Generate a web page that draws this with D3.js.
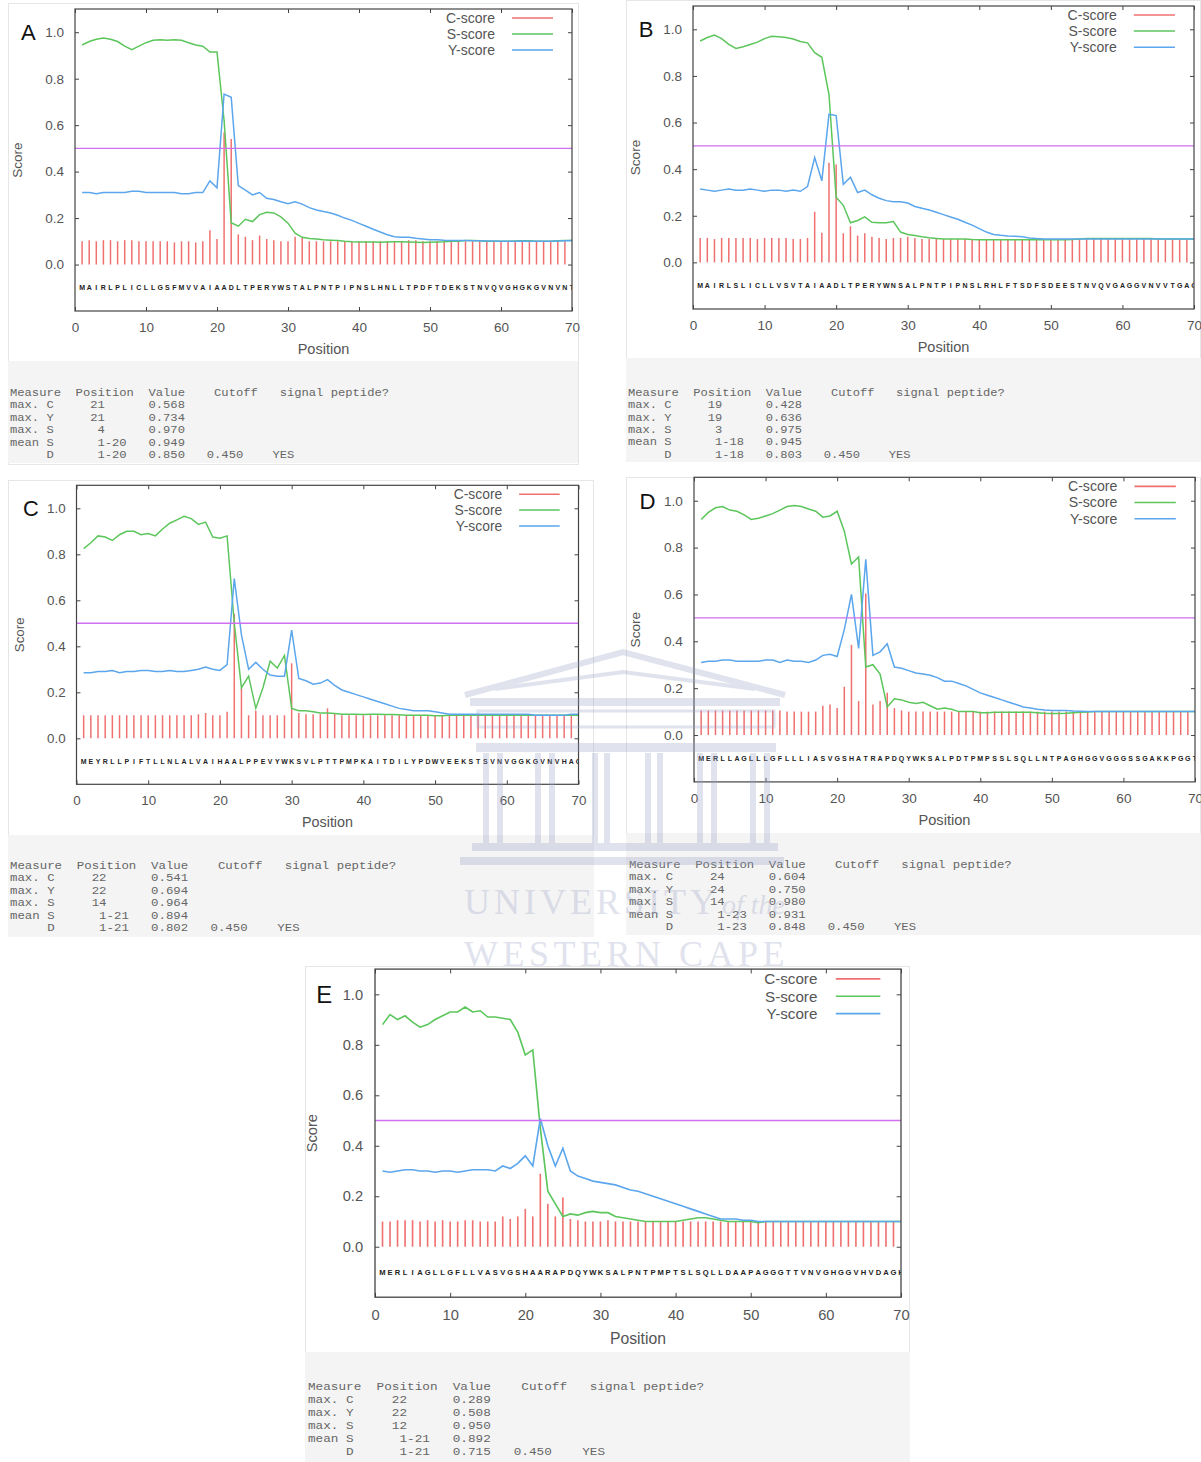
<!DOCTYPE html>
<html>
<head>
<meta charset="utf-8">
<script src="https://cdn.jsdelivr.net/npm/d3@7"></script>
<style>
body { margin: 0; background: #fff; }
svg text { font-family: "Liberation Sans", Arial, sans-serif; }
.tbl text { font-family: "Liberation Mono", monospace; white-space: pre; }
</style>
</head>
<body>
<div class="container"></div>
<script>
const WIDTH = 1201;
const HEIGHT = 1462;

const RED = '#f07070';
const GREEN = '#5cc65c';
const BLUE = '#5ba6ec';
const MAGENTA = '#d070f0';
const GREY = '#555';

const xTicks = [0, 10, 20, 30, 40, 50, 60, 70];
const yTicks = [0, 0.2, 0.4, 0.6, 0.8, 1.0];
const legendNames = ['C-score', 'S-score', 'Y-score'];
const measures = ['max. C', 'max. Y', 'max. S', 'mean S', 'D'];
const cutoff = '0.450';
const answer = 'YES';

// ---- panel A ----
const seqA = 'MAIRLPLICLLGSFMVVAIAADLTPERYWSTALPNTPIPNSLHNLLTPDFTDEKSTNVQVGHGKGVNVNTH';
const cA = [0.10,0.105,0.10,0.105,0.105,0.10,0.105,0.105,0.10,0.10,
    0.10,0.10,0.10,0.095,0.10,0.10,0.095,0.10,0.148,0.11,
    0.568,0.54,0.13,0.12,0.105,0.125,0.11,0.105,0.10,0.10,
    0.12,0.115,0.10,0.10,0.10,0.10,0.10,0.10,0.10,0.10,
    0.10,0.10,0.10,0.10,0.10,0.10,0.105,0.105,0.10,0.10,
    0.10,0.10,0.10,0.10,0.10,0.10,0.10,0.10,0.10,0.10,
    0.10,0.10,0.10,0.10,0.10,0.10,0.10,0.10,0.10];
const sA = [0.945,0.96,0.97,0.975,0.97,0.96,0.94,0.925,0.94,0.955,
    0.965,0.968,0.965,0.968,0.965,0.955,0.945,0.94,0.915,0.915,
    0.62,0.18,0.165,0.195,0.185,0.215,0.225,0.222,0.205,0.178,
    0.135,0.117,0.112,0.11,0.107,0.105,0.103,0.10,0.098,0.097,
    0.097,0.097,0.096,0.097,0.098,0.098,0.097,0.096,0.095,0.096,
    0.097,0.098,0.10,0.10,0.103,0.103,0.102,0.10,0.10,0.10,
    0.10,0.101,0.102,0.102,0.10,0.10,0.10,0.102,0.103,0.104];
const yA = [0.31,0.31,0.305,0.31,0.31,0.31,0.31,0.315,0.315,0.31,
    0.31,0.31,0.31,0.31,0.305,0.305,0.31,0.31,0.36,0.33,
    0.734,0.72,0.34,0.32,0.30,0.31,0.285,0.28,0.27,0.262,
    0.27,0.26,0.245,0.235,0.228,0.222,0.212,0.20,0.19,0.177,
    0.165,0.152,0.14,0.128,0.12,0.118,0.117,0.113,0.11,0.107,
    0.107,0.105,0.104,0.103,0.103,0.102,0.102,0.101,0.101,0.10,
    0.10,0.10,0.101,0.10,0.10,0.10,0.10,0.101,0.102,0.103];
const posA = ['21', '21', '4', '1-20', '1-20'];
const valA = ['0.568', '0.734', '0.970', '0.949', '0.850'];

// ---- panel B ----
const seqB = 'MAIRLSLICLLVSVTAIAADLTPERYWNSALPNTPIPNSLRHLFTSDFSDEESTNVQVGAGGVNVVTGAG';
const cB = [0.105,0.105,0.10,0.105,0.105,0.105,0.105,0.105,0.10,0.105,
    0.105,0.105,0.105,0.10,0.10,0.105,0.217,0.127,0.428,0.42,
    0.125,0.155,0.115,0.125,0.11,0.105,0.10,0.105,0.105,0.11,
    0.105,0.10,0.10,0.10,0.10,0.10,0.10,0.10,0.10,0.10,
    0.10,0.10,0.10,0.10,0.10,0.10,0.10,0.10,0.10,0.10,
    0.10,0.10,0.10,0.10,0.10,0.10,0.10,0.10,0.10,0.10,
    0.10,0.10,0.10,0.10,0.10,0.10,0.10,0.10,0.10];
const sB = [0.95,0.965,0.975,0.96,0.935,0.918,0.925,0.935,0.945,0.96,
    0.97,0.968,0.965,0.958,0.948,0.942,0.90,0.88,0.72,0.28,
    0.245,0.17,0.18,0.195,0.172,0.17,0.17,0.175,0.13,0.12,
    0.115,0.11,0.106,0.103,0.10,0.10,0.10,0.10,0.098,0.097,
    0.097,0.097,0.097,0.097,0.097,0.097,0.097,0.097,0.097,0.097,
    0.097,0.097,0.098,0.10,0.102,0.102,0.102,0.102,0.102,0.102,
    0.102,0.102,0.102,0.102,0.10,0.10,0.10,0.10,0.10,0.10];
const yB = [0.315,0.31,0.305,0.31,0.315,0.31,0.31,0.315,0.31,0.305,
    0.31,0.31,0.305,0.31,0.305,0.325,0.45,0.35,0.636,0.63,
    0.335,0.365,0.30,0.31,0.29,0.275,0.265,0.26,0.26,0.255,
    0.24,0.232,0.225,0.215,0.205,0.195,0.185,0.172,0.16,0.145,
    0.13,0.12,0.116,0.113,0.112,0.11,0.105,0.102,0.10,0.10,
    0.10,0.10,0.10,0.10,0.10,0.10,0.10,0.10,0.10,0.10,
    0.10,0.10,0.10,0.10,0.10,0.10,0.10,0.10,0.10,0.10];
const posB = ['19', '19', '3', '1-18', '1-18'];
const valB = ['0.428', '0.636', '0.975', '0.945', '0.803'];

// ---- panel C ----
const seqC = 'MEYRLLPIFTLLNLALVAIHAALPPEVYWKSVLPTTPMPKAITDILYPDWVEEKSTSVNVGGKGVNVHAG';
const cC = [0.10,0.10,0.10,0.10,0.10,0.10,0.10,0.10,0.10,0.10,
    0.10,0.10,0.10,0.10,0.10,0.10,0.105,0.11,0.10,0.10,
    0.115,0.541,0.22,0.10,0.12,0.10,0.10,0.10,0.10,0.326,
    0.11,0.105,0.105,0.105,0.13,0.11,0.10,0.10,0.10,0.10,
    0.10,0.10,0.10,0.10,0.10,0.10,0.10,0.10,0.10,0.10,
    0.10,0.10,0.10,0.10,0.10,0.10,0.10,0.10,0.10,0.10,
    0.10,0.10,0.10,0.10,0.10,0.10,0.10,0.10,0.10];
const sC = [0.825,0.85,0.88,0.875,0.86,0.885,0.90,0.90,0.885,0.89,
    0.88,0.91,0.935,0.95,0.965,0.955,0.93,0.94,0.875,0.87,
    0.88,0.50,0.22,0.27,0.13,0.22,0.335,0.305,0.36,0.13,
    0.12,0.12,0.115,0.11,0.11,0.108,0.105,0.105,0.105,0.103,
    0.105,0.105,0.103,0.103,0.102,0.10,0.10,0.10,0.10,0.098,
    0.098,0.10,0.10,0.10,0.10,0.10,0.10,0.10,0.10,0.10,
    0.10,0.10,0.10,0.10,0.10,0.10,0.10,0.10,0.10,0.10];
const yC = [0.285,0.285,0.29,0.29,0.295,0.285,0.29,0.29,0.295,0.295,
    0.29,0.29,0.295,0.29,0.29,0.295,0.30,0.31,0.30,0.295,
    0.32,0.694,0.45,0.30,0.33,0.30,0.275,0.27,0.27,0.47,
    0.26,0.25,0.235,0.24,0.255,0.23,0.21,0.20,0.19,0.18,
    0.17,0.16,0.15,0.14,0.13,0.125,0.12,0.12,0.12,0.115,
    0.11,0.105,0.105,0.105,0.105,0.105,0.105,0.105,0.105,0.105,
    0.105,0.105,0.105,0.10,0.10,0.10,0.10,0.10,0.105,0.105];
const posC = ['22', '22', '14', '1-21', '1-21'];
const valC = ['0.541', '0.694', '0.964', '0.894', '0.802'];

// ---- panel D ----
const seqD = 'MERLLAGLLLGFLLLIASVGSHATRAPDQYWKSALPDTPMPSSLSQLLNTPAGHGGVGGGSSGAKKPGGT';
const cD = [0.105,0.105,0.105,0.105,0.105,0.105,0.105,0.105,0.105,0.105,
    0.105,0.105,0.10,0.10,0.10,0.10,0.10,0.125,0.13,0.115,
    0.206,0.385,0.145,0.604,0.13,0.145,0.18,0.115,0.105,0.10,
    0.10,0.10,0.10,0.10,0.10,0.10,0.10,0.10,0.10,0.10,
    0.10,0.10,0.10,0.10,0.10,0.10,0.10,0.10,0.10,0.10,
    0.10,0.10,0.10,0.10,0.10,0.10,0.10,0.10,0.10,0.10,
    0.10,0.10,0.10,0.10,0.10,0.10,0.10,0.10,0.10];
const sD = [0.92,0.95,0.97,0.975,0.96,0.955,0.94,0.92,0.925,0.935,
    0.945,0.96,0.975,0.98,0.975,0.965,0.955,0.93,0.935,0.955,
    0.87,0.73,0.76,0.29,0.30,0.26,0.12,0.155,0.15,0.14,
    0.135,0.14,0.125,0.11,0.115,0.11,0.10,0.10,0.10,0.095,
    0.095,0.097,0.097,0.097,0.097,0.097,0.097,0.095,0.093,0.092,
    0.092,0.093,0.095,0.097,0.098,0.10,0.10,0.10,0.10,0.10,
    0.10,0.10,0.10,0.10,0.10,0.10,0.10,0.10,0.10,0.10];
const yD = [0.31,0.315,0.315,0.32,0.32,0.315,0.315,0.315,0.315,0.32,
    0.32,0.31,0.32,0.315,0.315,0.31,0.32,0.34,0.345,0.335,
    0.45,0.60,0.37,0.75,0.34,0.355,0.39,0.29,0.285,0.275,
    0.265,0.26,0.255,0.245,0.23,0.23,0.22,0.21,0.195,0.18,
    0.17,0.16,0.15,0.14,0.13,0.12,0.115,0.11,0.107,0.105,
    0.105,0.105,0.103,0.102,0.10,0.10,0.10,0.10,0.10,0.10,
    0.10,0.10,0.10,0.10,0.10,0.10,0.10,0.10,0.10,0.10];
const posD = ['24', '24', '14', '1-23', '1-23'];
const valD = ['0.604', '0.750', '0.980', '0.931', '0.848'];

// ---- panel E ----
const seqE = 'MERLIAGLLGFLLVASVGSHAARAPDQYWKSALPNTPMPTSLSQLLDAAPAGGGTTVNVGHGGVHVDAGH';
const cE = [0.10,0.10,0.105,0.105,0.105,0.10,0.105,0.10,0.105,0.10,
    0.10,0.105,0.105,0.10,0.10,0.10,0.12,0.11,0.12,0.15,
    0.12,0.289,0.17,0.12,0.195,0.11,0.105,0.10,0.10,0.10,
    0.105,0.10,0.10,0.10,0.10,0.10,0.10,0.10,0.10,0.10,
    0.10,0.10,0.10,0.10,0.10,0.10,0.10,0.10,0.10,0.10,
    0.10,0.10,0.10,0.10,0.10,0.10,0.10,0.10,0.10,0.10,
    0.10,0.10,0.10,0.10,0.10,0.10,0.10,0.10,0.10];
const sE = [0.88,0.92,0.90,0.915,0.89,0.87,0.88,0.90,0.915,0.93,
    0.93,0.95,0.93,0.935,0.91,0.91,0.905,0.90,0.85,0.76,
    0.78,0.47,0.22,0.17,0.12,0.13,0.125,0.135,0.14,0.135,
    0.135,0.12,0.115,0.11,0.105,0.10,0.10,0.10,0.10,0.10,
    0.105,0.11,0.115,0.115,0.11,0.105,0.10,0.10,0.10,0.10,
    0.095,0.10,0.10,0.10,0.10,0.10,0.10,0.10,0.10,0.10,
    0.10,0.10,0.10,0.10,0.10,0.10,0.10,0.10,0.10,0.10];
const yE = [0.30,0.295,0.30,0.305,0.305,0.30,0.30,0.295,0.30,0.30,
    0.295,0.30,0.305,0.305,0.305,0.30,0.32,0.31,0.33,0.36,
    0.32,0.508,0.40,0.32,0.39,0.30,0.28,0.27,0.26,0.255,
    0.25,0.245,0.235,0.225,0.22,0.21,0.20,0.19,0.18,0.17,
    0.16,0.15,0.14,0.13,0.12,0.11,0.11,0.11,0.105,0.105,
    0.10,0.10,0.10,0.10,0.10,0.10,0.10,0.10,0.10,0.10,
    0.10,0.10,0.10,0.10,0.10,0.10,0.10,0.10,0.10,0.10];
const posE = ['22', '22', '12', '1-21', '1-21'];
const valE = ['0.289', '0.508', '0.950', '0.892', '0.715'];

// layout of each screenshot tile (pixels)
var panels = [
    {name: 'A', c: cA, s: sA, y: yA, seq: seqA, pos: posA, val: valA,
        left: 75, right: 572, top: 9, bottom: 311,
        box: [8, 3, 571, 462], tbox: [8, 361, 570, 102], tx: 10, ty: 391.7, rowH: 12.55, charW: 7.3},
    {name: 'B', c: cB, s: sB, y: yB, seq: seqB, pos: posB, val: valB,
        left: 693, right: 1194, top: 6, bottom: 309,
        box: [626, 0, 575, 462], tbox: [626, 358, 575, 104], tx: 628, ty: 392, rowH: 12.4, charW: 7.25},
    {name: 'C', c: cC, s: sC, y: yC, seq: seqC, pos: posC, val: valC,
        left: 76.5, right: 578.5, top: 485.3, bottom: 784.3,
        box: [8, 480, 586, 457], tbox: [8, 835, 586, 102], tx: 10, ty: 865, rowH: 12.5, charW: 7.43},
    {name: 'D', c: cD, s: sD, y: yD, seq: seqD, pos: posD, val: valD,
        left: 694, right: 1195, top: 477.3, bottom: 781.9,
        box: [626, 477, 575, 458], tbox: [626, 833, 575, 102], tx: 629, ty: 864, rowH: 12.5, charW: 7.37},
    {name: 'E', c: cE, s: sE, y: yE, seq: seqE, pos: posE, val: valE,
        left: 375, right: 901, top: 969.1, bottom: 1297.2,
        box: [305, 966, 605, 496], tbox: [305, 1352, 605, 110], tx: 308, ty: 1386, rowH: 13, charW: 7.62}
];

var translate = function (x, y) {
    return 'translate(' + x + ',' + y + ')';
};

// one monospace line of the SignalP summary table
var tableLine = function (m, p, v) {
    var posStr = p.indexOf('-') >= 0 ? ' ' + p : p.padStart(2);
    var s = m.padStart(6).padEnd(11) + posStr;
    s = s.padEnd(19) + v;
    if (m === 'D') {
        s = s.padEnd(27) + cutoff;
        s = s.padEnd(36) + answer;
    }
    return s;
};

var drawPanel = function (svg, p) {
    var k = (p.bottom - p.top) / 302;
    var xScale = d3.scaleLinear().domain([0, 70]).range([p.left, p.right]);
    var yScale = d3.scaleLinear().domain([-0.2, 1.1]).range([p.bottom, p.top]);

    // tile border + table background
    svg.append('rect')
        .attr('x', p.box[0] + 0.5).attr('y', p.box[1] + 0.5)
        .attr('width', p.box[2] - 1).attr('height', p.box[3] - 1)
        .attr('fill', 'none').attr('stroke', '#e6e6e6');
    svg.append('rect')
        .attr('x', p.tbox[0]).attr('y', p.tbox[1])
        .attr('width', p.tbox[2]).attr('height', p.tbox[3])
        .attr('fill', '#f4f4f4');

    svg.append('clipPath').attr('id', 'clip' + p.name)
        .append('rect')
        .attr('x', p.left).attr('y', p.top)
        .attr('width', p.right - p.left).attr('height', p.bottom - p.top);

    var g = svg.append('g').attr('clip-path', 'url(#clip' + p.name + ')');

    // C-score impulses
    g.append('g').selectAll('line')
        .data(p.c)
        .enter().append('line')
        .attr('x1', function (d, i) { return xScale(i + 1); })
        .attr('x2', function (d, i) { return xScale(i + 1); })
        .attr('y1', yScale(0))
        .attr('y2', function (d) { return yScale(d); })
        .attr('stroke', RED)
        .attr('stroke-width', 1.5 * k);

    var line = d3.line()
        .x(function (d, i) { return xScale(i + 1); })
        .y(function (d) { return yScale(d); });

    g.append('path').attr('d', line(p.s))
        .attr('fill', 'none').attr('stroke', GREEN).attr('stroke-width', 1.5 * k);
    g.append('path').attr('d', line(p.y))
        .attr('fill', 'none').attr('stroke', BLUE).attr('stroke-width', 1.5 * k);

    // cutoff 0.5
    g.append('line')
        .attr('x1', p.left).attr('x2', p.right)
        .attr('y1', yScale(0.5)).attr('y2', yScale(0.5))
        .attr('stroke', MAGENTA).attr('stroke-width', 1.4 * k);

    // sequence letters
    g.append('g').selectAll('text')
        .data(p.seq.split(''))
        .enter().append('text')
        .attr('x', function (d, i) { return xScale(i + 1); })
        .attr('y', yScale(-0.1))
        .attr('dy', '0.35em')
        .attr('text-anchor', 'middle')
        .attr('font-size', 7 * k)
        .attr('font-weight', 'bold')
        .attr('fill', '#222')
        .text(function (d) { return d; });

    // axes
    var xAxis = d3.axisBottom(xScale).tickValues(xTicks).tickSize(-4 * k).tickPadding(11 * k);
    var yAxis = d3.axisLeft(yScale).tickValues(yTicks).tickFormat(d3.format('.1f'))
        .tickSize(-4 * k).tickPadding(11 * k);

    var ax = svg.append('g').attr('transform', translate(0, p.bottom)).call(xAxis);
    var ay = svg.append('g').attr('transform', translate(p.left, 0)).call(yAxis);
    svg.append('g').attr('transform', translate(0, p.top))
        .call(d3.axisTop(xScale).tickValues(xTicks).tickSize(-4 * k).tickFormat(''));
    svg.append('g').attr('transform', translate(p.right, 0))
        .call(d3.axisRight(yScale).tickValues(yTicks).tickSize(-4 * k).tickFormat(''));

    svg.selectAll('.domain').remove();
    svg.selectAll('.tick line').attr('stroke', '#444');
    [ax, ay].forEach(function (a) {
        a.selectAll('text')
            .attr('font-size', 13.5 * k)
            .attr('fill', GREY)
            .style('font-family', '"Liberation Sans", Arial, sans-serif');
    });

    // frame
    svg.append('rect')
        .attr('x', p.left).attr('y', p.top)
        .attr('width', p.right - p.left).attr('height', p.bottom - p.top)
        .attr('fill', 'none').attr('stroke', '#444').attr('stroke-width', 1.2 * k);

    // axis titles
    svg.append('text')
        .attr('x', (p.left + p.right) / 2).attr('y', p.bottom + 38 * k)
        .attr('dy', '0.35em').attr('text-anchor', 'middle')
        .attr('font-size', 14.5 * k).attr('fill', GREY)
        .text('Position');
    svg.append('text')
        .attr('transform', translate(p.left - 58 * k, (p.top + p.bottom) / 2) + ' rotate(-90)')
        .attr('dy', '0.35em').attr('text-anchor', 'middle')
        .attr('font-size', 13.5 * k).attr('fill', GREY)
        .text('Score');

    // panel letter
    svg.append('text')
        .attr('x', p.left - 54 * k).attr('y', yScale(1.0))
        .attr('dy', '0.36em')
        .attr('font-size', 22 * k).attr('fill', '#111')
        .text(p.name);

    // legend
    var colors = [RED, GREEN, BLUE];
    var leg = svg.append('g');
    legendNames.forEach(function (n, i) {
        var ly = p.top + (9 + 16 * i) * k;
        leg.append('text')
            .attr('x', p.right - 77 * k).attr('y', ly)
            .attr('dy', '0.35em').attr('text-anchor', 'end')
            .attr('font-size', 14 * k).attr('fill', GREY)
            .text(n);
        leg.append('line')
            .attr('x1', p.right - 60 * k).attr('x2', p.right - 19 * k)
            .attr('y1', ly).attr('y2', ly)
            .attr('stroke', colors[i]).attr('stroke-width', 1.5 * k);
    });

    // summary table
    var fs = p.name === 'E' ? 11.5 : 11;
    var rows = ['Measure  Position  Value    Cutoff   signal peptide?'];
    measures.forEach(function (m, i) {
        rows.push(tableLine(m, p.pos[i], p.val[i]));
    });
    var tbl = svg.append('g').attr('class', 'tbl')
        .attr('transform', translate(p.tx, p.ty) + ' scale(' + (p.charW / (0.6 * fs)) + ',1)');
    tbl.selectAll('text')
        .data(rows)
        .enter().append('text')
        .attr('x', 0)
        .attr('y', function (d, i) { return i * p.rowH; })
        .attr('dy', '0.35em')
        .attr('font-size', fs)
        .attr('fill', '#666')
        .text(function (d) { return d; });
};

var drawWatermark = function (svg) {
    var w = svg.append('g').attr('fill', '#9aa1c4').attr('stroke', '#9aa1c4').attr('opacity', 0.3);
    w.append('path').attr('d', 'M465,695 L623,652 L785,695').attr('fill', 'none').attr('stroke-width', 6);
    w.append('path').attr('d', 'M495,689 L623,672 L755,689').attr('fill', 'none').attr('stroke-width', 4);
    w.append('rect').attr('x', 470).attr('y', 698).attr('width', 310).attr('height', 8).attr('stroke', 'none');
    w.append('rect').attr('x', 478).attr('y', 711).attr('width', 296).attr('height', 16)
        .attr('fill', 'none').attr('stroke-width', 3);
    w.append('rect').attr('x', 476).attr('y', 743).attr('width', 300).attr('height', 9).attr('stroke', 'none');
    [483, 497, 535, 549, 592, 604, 645, 657, 697, 711, 750, 764].forEach(function (cx) {
        w.append('rect').attr('x', cx).attr('y', 753).attr('width', 6).attr('height', 90).attr('stroke', 'none');
    });
    w.append('rect').attr('x', 472).attr('y', 843).attr('width', 306).attr('height', 8).attr('stroke', 'none');
    w.append('rect').attr('x', 460).attr('y', 857).attr('width', 324).attr('height', 8).attr('stroke', 'none');
    w.append('text').attr('x', 464).attr('y', 914).attr('stroke', 'none')
        .attr('font-size', 36).attr('letter-spacing', 4)
        .style('font-family', '"Liberation Serif", serif')
        .text('UNIVERSITY');
    w.append('text').attr('x', 722).attr('y', 914).attr('stroke', 'none')
        .attr('font-size', 28).attr('font-style', 'italic')
        .style('font-family', '"Liberation Serif", serif')
        .text('of the');
    w.append('text').attr('x', 464).attr('y', 966).attr('stroke', 'none')
        .attr('font-size', 36).attr('letter-spacing', 4.5)
        .style('font-family', '"Liberation Serif", serif')
        .text('WESTERN CAPE');
};

window.onload = function () {
    var svg = d3.select('.container').append('svg')
        .attr('width', WIDTH)
        .attr('height', HEIGHT);
    svg.append('rect').attr('width', WIDTH).attr('height', HEIGHT).attr('fill', '#fff');
    panels.forEach(function (p) {
        drawPanel(svg, p);
    });
    drawWatermark(svg);
};
</script>
</body>
</html>
